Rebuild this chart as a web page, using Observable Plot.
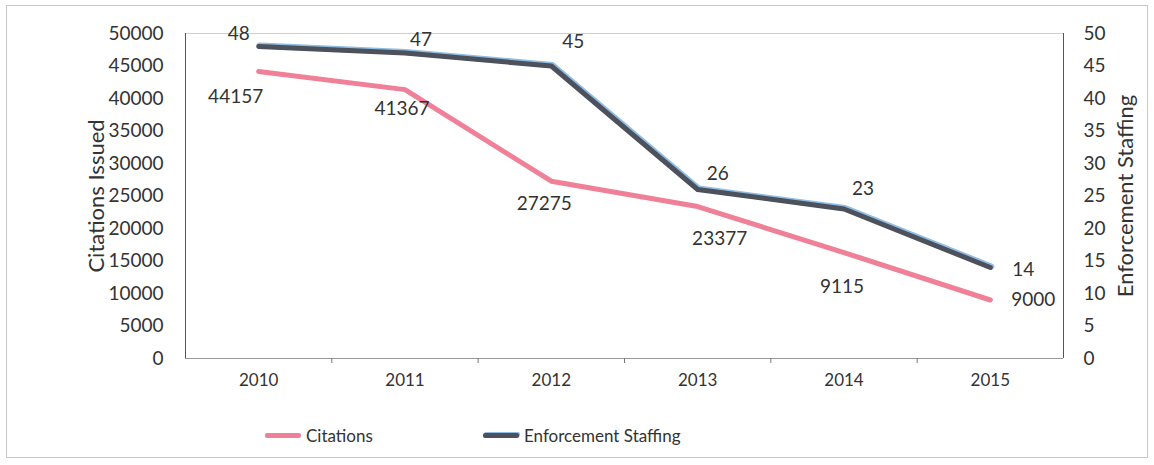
<!DOCTYPE html>
<html>
<head>
<meta charset="utf-8">
<script src="https://cdn.jsdelivr.net/npm/d3@7"></script>
<script src="https://cdn.jsdelivr.net/npm/@observablehq/plot@0.6"></script>
<style>
  html, body { margin: 0; padding: 0; background: white; }
  #wrap { position: relative; width: 1154px; height: 465px; font-family: Lato, "Open Sans", sans-serif; color: #333; }
  #border { position: absolute; left: 6px; top: 5px; width: 1142px; height: 453px; border: 1px solid #c8c8c8; box-sizing: border-box; pointer-events: none; }
  #chart { position: absolute; left: 0; top: 0; }
  #legend { position: absolute; top: 425px; left: 0; width: 1154px; height: 24px; font-size: 17px; }
  .item { position: absolute; display: flex; align-items: center; gap: 5px; }
  .sw { display: inline-block; width: 36px; height: 5px; border-radius: 2px; }
</style>
</head>
<body>
<div id="wrap">
  <div id="chart"></div>
  <div id="legend"></div>
  <div id="border"></div>
</div>
<script>
// ---- data ----
const years = [2010, 2011, 2012, 2013, 2014, 2015];
// citation values as plotted in the picture
const citations = [44157, 41367, 27275, 23377, 16300, 9000];
// citation data labels as printed in the picture
const citationLabels = ["44157", "41367", "27275", "23377", "9115", "9000"];
const staffing = [48, 47, 45, 26, 23, 14];
const citationTicks = [0, 5000, 10000, 15000, 20000, 25000, 30000, 35000, 40000, 45000, 50000];
const staffingTicks = [0, 5, 10, 15, 20, 25, 30, 35, 40, 45, 50];
const seriesNames = ["Citations", "Enforcement Staffing"];
const axisTitles = ["Citations Issued", "Enforcement Staffing"];

// ---- styling (label offsets in px) ----
const staffLabelOffsets = [[-20, -13], [16, -13], [22, -24], [20, -16], [19, -20], [33, 2]];
const citLabelOffsets = [[-23, 25], [-3, 19], [-7, 23], [22, 32], [-2, 34], [43, 0]];
const pink = "#ef8097";
const dark = "#4c515c";
const blueEdge = "#8fbde4";
const staffScale = 1000; // staffing axis 0..50 maps onto citations axis 0..50000

const data = years.map((year, i) => ({
  year, citations: citations[i], label: citationLabels[i], staff: staffing[i]
}));
const boundaries = years.slice(1).map(y => y - 0.5);
const xDomain = [years[0] - 0.5, years[years.length - 1] + 0.5];

const staffLabels = data.map((d, i) => Plot.text([d], {
  x: "year", y: d => d.staff * staffScale, text: d => String(d.staff),
  dx: staffLabelOffsets[i][0], dy: staffLabelOffsets[i][1],
  fontSize: 19, fill: "#333", textAnchor: "middle", lineAnchor: "middle"
}));
const citLabels = data.map((d, i) => Plot.text([d], {
  x: "year", y: "citations", text: "label",
  dx: citLabelOffsets[i][0], dy: citLabelOffsets[i][1],
  fontSize: 19, fill: "#333", textAnchor: "middle", lineAnchor: "middle"
}));

const chart = Plot.plot({
  width: 1154,
  height: 400,
  marginLeft: 185,
  marginRight: 91,
  marginTop: 33,
  marginBottom: 42,
  x: { domain: xDomain },
  y: { domain: [0, 50000] },
  style: { fontFamily: "Lato, 'Open Sans', sans-serif", color: "#333", background: "transparent" },
  marks: [
    Plot.ruleY([50000], { stroke: "#cfcfcf" }),
    Plot.ruleY([0], { stroke: "#9a9a9a" }),
    Plot.ruleX(xDomain, { stroke: "#555" }),
    Plot.axisX({ ticks: boundaries, tickSize: 5, tickFormat: () => "", stroke: "#777", label: null }),
    Plot.axisX({ ticks: years, tickSize: 0, tickPadding: 15, tickFormat: d => `${d}`, fontSize: 17, label: null }),
    Plot.axisY({ anchor: "left", ticks: citationTicks, tickSize: 0, tickPadding: 22, tickFormat: d => `${d}`, fontSize: 19,
      label: axisTitles[0], labelAnchor: "center", labelOffset: 97 }),
    Plot.axisY({ anchor: "right", ticks: staffingTicks.map(t => t * staffScale), tickSize: 0, tickPadding: 20,
      tickFormat: d => `${d / staffScale}`, fontSize: 19,
      label: axisTitles[1], labelAnchor: "center", labelOffset: 69 }),
    Plot.line(data, { x: "year", y: "citations", stroke: pink, strokeWidth: 5 }),
    Plot.line(data, { x: "year", y: d => d.staff * staffScale, stroke: blueEdge, strokeWidth: 6, dx: 1, dy: -1 }),
    Plot.line(data, { x: "year", y: d => d.staff * staffScale, stroke: dark, strokeWidth: 5 }),
    ...staffLabels,
    ...citLabels
  ]
});

// axis titles: larger, without arrows
const titleGroups = d3.select(chart).selectAll('g[aria-label="y-axis label"]');
titleGroups.attr("font-size", 22);
titleGroups.selectAll("text").attr("font-size", 22).each(function () {
  const t = this.textContent.replace(/\s*[↑↓→←]\s*/g, "").trim();
  this.textContent = t;
});
document.getElementById("chart").appendChild(chart);

// legend
const legend = d3.select("#legend");
const items = [
  { name: seriesNames[0], left: 265, bg: pink, shadow: "none" },
  { name: seriesNames[1], left: 483, bg: dark, shadow: `1px -1px 0 ${blueEdge}` }
];
items.forEach(it => {
  const div = legend.append("div").attr("class", "item").style("left", it.left + "px").style("top", "0px");
  div.append("span").attr("class", "sw").style("background", it.bg).style("box-shadow", it.shadow);
  div.append("span").text(it.name);
});
</script>
</body>
</html>
